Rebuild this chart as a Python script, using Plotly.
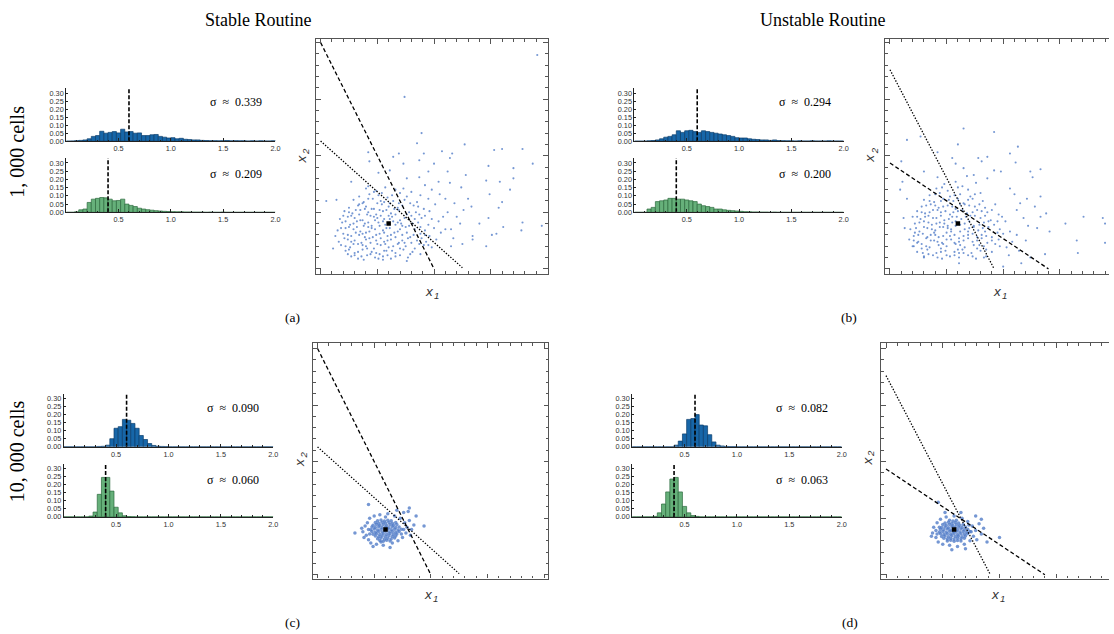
import plotly.graph_objects as go

W, H = 1114, 634

# ---------------------------------------------------------------- histograms
# fraction of cells per bin; 50 bins of width 0.04 covering [0, 2]
BIN_WIDTH = 0.04

stable_1k_x1 = [0, .001, .003, .005, .008, .015, .03, .035, .062, .05,
                .055, .06, .052, .075, .058, .06, .05, .052, .035, .035,
                .04, .042, .03, .025, .02, .022, .015, .018, .012, .01,
                .008, .008, .005, .004, .003, .003, .002, .003, .004, .002,
                .003, .002, .002, .001, .002, .001, .002, .001, .001, .002]
stable_1k_x2 = [0, 0, .003, .015, .02, .06, .08, .085, .09, .088,
                .08, .07, .072, .08, .05, .042, .035, .025, .02, .016,
                .013, .01, .008, .006, .005, .004, .003, .003, .002, .002,
                .001, .001, .001, 0, .001, 0, 0, .001, 0, 0,
                0, 0, 0, 0, 0, 0, 0, 0, 0, 0]
unstable_1k_x1 = [0, 0, 0, .002, .004, .008, .015, .025, .03, .04,
                  .065, .055, .065, .068, .06, .055, .065, .06, .055, .05,
                  .045, .04, .035, .03, .022, .02, .02, .015, .012, .01,
                  .008, .008, .005, .008, .004, .003, .002, .002, .001, .002,
                  .001, .001, .002, .001, .001, .001, .002, .001, .001, .001]
unstable_1k_x2 = [0, 0, 0, .02, .03, .065, .07, .075, .085, .085,
                  .08, .08, .075, .07, .065, .05, .04, .035, .03, .02,
                  .02, .015, .012, .01, .008, .006, .004, .003, .002, .002,
                  .001, .001, 0, .001, 0, 0, 0, 0, 0, 0,
                  0, 0, 0, 0, 0, 0, 0, 0, 0, 0]
stable_10k_x1 = [0, 0, 0, 0, 0, 0, 0, 0, .002, .003,
                 .01, .05, .115, .125, .17, .165, .145, .115, .07, .045,
                 .02, .008, .003, .002, .001, 0, 0, 0, 0, 0,
                 0, 0, 0, 0, 0, 0, 0, 0, 0, 0,
                 0, 0, 0, 0, 0, 0, 0, 0, 0, 0]
stable_10k_x2 = [0, 0, 0, 0, 0, 0, .005, .03, .14, .245,
                 .245, .16, .06, .025, .007, .002, .001, 0, 0, 0,
                 0, 0, 0, 0, 0, 0, 0, 0, 0, 0,
                 0, 0, 0, 0, 0, 0, 0, 0, 0, 0,
                 0, 0, 0, 0, 0, 0, 0, 0, 0, 0]
unstable_10k_x1 = [0, 0, 0, 0, 0, 0, 0, 0, 0, 0,
                   .01, .035, .08, .17, .175, .2, .135, .13, .075, .03,
                   .01, .005, .002, .001, .001, 0, 0, 0, 0, 0,
                   0, 0, 0, 0, 0, 0, 0, 0, 0, 0,
                   0, 0, 0, 0, 0, 0, 0, 0, 0, 0]
unstable_10k_x2 = [0, 0, 0, 0, 0, .003, .025, .08, .155, .235,
                   .245, .155, .065, .025, .008, .003, 0, 0, 0, 0,
                   0, 0, 0, 0, 0, 0, 0, 0, 0, 0,
                   0, 0, 0, 0, 0, 0, 0, 0, 0, 0,
                   0, 0, 0, 0, 0, 0, 0, 0, 0, 0]

sigma_labels = {
    "a": ("0.339", "0.209"),
    "b": ("0.294", "0.200"),
    "c": ("0.090", "0.060"),
    "d": ("0.082", "0.063"),
}

MEAN_X1 = 0.6
MEAN_X2 = 0.4

# ---------------------------------------------------------------- phase-plane lines
stable_dashed_x, stable_dashed_y = [0.0, 1.0], [2.0, 0.0]
stable_dotted_x, stable_dotted_y = [0.0, 1.25], [1.13, 0.01]
unstable_dotted_x, unstable_dotted_y = [0.0, 0.92], [1.76, 0.0]
unstable_dashed_x, unstable_dashed_y = [0.0, 1.40], [0.935, 0.0]

# ---------------------------------------------------------------- cell samples (x1, x2)
stable_1k_points = [
    (0.89, 1.20), (0.85, 1.11), (0.42, 1.03), (0.69, 1.02), (0.91, 1.02), (1.07, 1.04), (1.27, 1.10),
    (1.16, 1.02), (1.14, 0.98), (1.53, 1.05), (1.60, 1.06), (1.78, 1.06), (1.87, 0.93), (0.43, 0.95),
    (0.64, 0.99), (0.73, 0.93), (0.87, 0.96), (1.00, 0.93), (0.95, 0.86), (1.12, 0.86), (1.28, 0.83),
    (1.48, 0.91), (1.70, 0.89), (0.61, 0.87), (0.51, 0.85), (0.76, 0.80), (0.87, 0.81), (1.04, 0.77),
    (1.14, 0.76), (1.46, 0.78), (1.58, 0.77), (1.70, 0.80), (1.24, 0.72), (1.67, 0.70), (0.42, 0.73),
    (0.27, 0.77), (1.49, 0.66), (1.33, 0.55), (1.57, 0.54), (1.78, 0.41), (1.95, 0.38), (1.61, 0.37),
    (1.77, 0.34), (1.51, 0.30), (1.55, 0.31), (1.34, 0.29), (1.17, 0.27), (1.25, 0.22), (1.46, 0.20),
    (1.40, 0.40), (1.48, 0.45), (1.23, 0.40), (0.05, 0.60), (0.14, 0.61), (0.11, 0.18), (0.13, 0.29),
    (0.24, 0.13), (0.38, 0.08), (0.55, 0.08), (0.76, 0.07), (1.15, 0.20), (1.34, 0.26), (1.91, 1.89),
    (0.74, 1.52), (1.60, 0.59), (1.12, 0.50), (1.18, 0.58), (1.10, 0.62), (1.20, 0.46), (1.15, 0.35),
    (1.26, 0.52), (1.05, 0.66), (0.98, 0.70), (0.92, 0.74), (1.30, 0.62),
    (0.27, 0.11), (0.33, 0.09), (0.41, 0.12), (0.48, 0.10), (0.55, 0.11), (0.62, 0.09), (0.70, 0.12),
    (0.77, 0.10), (0.22, 0.16), (0.30, 0.14), (0.37, 0.17), (0.45, 0.15), (0.52, 0.13), (0.58, 0.16),
    (0.66, 0.14), (0.73, 0.17), (0.81, 0.15), (0.88, 0.13), (0.18, 0.21), (0.26, 0.19), (0.33, 0.22),
    (0.40, 0.20), (0.47, 0.18), (0.53, 0.21), (0.60, 0.19), (0.68, 0.22), (0.75, 0.20), (0.83, 0.18),
    (0.91, 0.21), (0.98, 0.19), (0.16, 0.24), (0.24, 0.26), (0.30, 0.25), (0.36, 0.23), (0.43, 0.27),
    (0.49, 0.25), (0.56, 0.24), (0.62, 0.26), (0.69, 0.23), (0.77, 0.27), (0.85, 0.25), (0.93, 0.24),
    (1.02, 0.26), (0.20, 0.31), (0.27, 0.29), (0.34, 0.30), (0.40, 0.32), (0.46, 0.28), (0.52, 0.31),
    (0.59, 0.29), (0.65, 0.32), (0.72, 0.30), (0.79, 0.28), (0.88, 0.31), (0.96, 0.29), (1.06, 0.32),
    (0.15, 0.34), (0.22, 0.36), (0.29, 0.35), (0.35, 0.33), (0.42, 0.37), (0.48, 0.35), (0.55, 0.34),
    (0.61, 0.36), (0.68, 0.33), (0.75, 0.37), (0.83, 0.35), (0.92, 0.34), (1.00, 0.36), (1.10, 0.35),
    (0.19, 0.41), (0.26, 0.39), (0.32, 0.42), (0.39, 0.40), (0.45, 0.38), (0.51, 0.41), (0.57, 0.39),
    (0.64, 0.42), (0.71, 0.40), (0.78, 0.38), (0.86, 0.41), (0.95, 0.39), (1.04, 0.42), (0.17, 0.44),
    (0.24, 0.46), (0.30, 0.45), (0.37, 0.43), (0.44, 0.47), (0.50, 0.45), (0.56, 0.44), (0.63, 0.46),
    (0.70, 0.43), (0.80, 0.47), (0.89, 0.45), (0.98, 0.44), (1.08, 0.46), (0.21, 0.51), (0.28, 0.49),
    (0.35, 0.52), (0.42, 0.50), (0.49, 0.48), (0.55, 0.51), (0.62, 0.49), (0.69, 0.52), (0.78, 0.50),
    (0.87, 0.48), (0.96, 0.51), (0.25, 0.54), (0.33, 0.56), (0.40, 0.55), (0.47, 0.53), (0.54, 0.57),
    (0.60, 0.55), (0.68, 0.54), (0.82, 0.56), (0.91, 0.53), (1.01, 0.57), (0.29, 0.61), (0.38, 0.59),
    (0.46, 0.62), (0.53, 0.60), (0.61, 0.58), (0.74, 0.61), (0.85, 0.59), (0.95, 0.62), (0.34, 0.64),
    (0.43, 0.66), (0.51, 0.65), (0.59, 0.63), (0.70, 0.67), (0.88, 0.65), (0.40, 0.71), (0.49, 0.69),
    (0.57, 0.72), (0.66, 0.70), (0.80, 0.68),
    (0.30, 0.12), (0.44, 0.13), (0.59, 0.12), (0.25, 0.17), (0.41, 0.18), (0.56, 0.16), (0.70, 0.18),
    (0.29, 0.22), (0.44, 0.23), (0.57, 0.22), (0.72, 0.25), (0.87, 0.22), (0.21, 0.27), (0.39, 0.28),
    (0.53, 0.27), (0.66, 0.28), (0.82, 0.30), (0.31, 0.32), (0.43, 0.33), (0.56, 0.32), (0.70, 0.35),
    (0.25, 0.37), (0.38, 0.38), (0.52, 0.38), (0.66, 0.39), (0.81, 0.40), (0.22, 0.42), (0.35, 0.43),
    (0.48, 0.43), (0.61, 0.44), (0.74, 0.45), (0.27, 0.47), (0.41, 0.48), (0.53, 0.47), (0.66, 0.48),
    (0.84, 0.50), (0.31, 0.52), (0.45, 0.53), (0.58, 0.52), (0.72, 0.56), (0.37, 0.58), (0.50, 0.58),
    (0.64, 0.60), (0.79, 0.58),
    (0.36, 0.11), (0.51, 0.09), (0.66, 0.11), (0.33, 0.15), (0.49, 0.14), (0.63, 0.16), (0.79, 0.13),
    (0.22, 0.20), (0.37, 0.21), (0.50, 0.22), (0.64, 0.20), (0.80, 0.23), (0.95, 0.21), (0.27, 0.24),
    (0.40, 0.26), (0.59, 0.25), (0.74, 0.23), (0.89, 0.27), (0.24, 0.30), (0.37, 0.31), (0.49, 0.30),
    (0.62, 0.30), (0.76, 0.32), (0.92, 0.30), (0.18, 0.36), (0.32, 0.37), (0.45, 0.36), (0.58, 0.36),
    (0.72, 0.38), (0.88, 0.37), (0.29, 0.40), (0.42, 0.41), (0.55, 0.42), (0.68, 0.41), (0.83, 0.44),
    (0.20, 0.47), (0.34, 0.48), (0.47, 0.46), (0.60, 0.47), (0.76, 0.48), (0.92, 0.47), (0.25, 0.50),
    (0.39, 0.53), (0.52, 0.52), (0.65, 0.53), (0.86, 0.55), (0.34, 0.57), (0.56, 0.59), (0.69, 0.58),
    (0.42, 0.62), (0.63, 0.65), (0.76, 0.64), (0.47, 0.68), (0.54, 0.67), (0.73, 0.71),
]

unstable_1k_points = [
    (0.65, 1.24), (0.92, 1.21), (0.15, 1.14), (0.27, 1.17), (0.60, 1.10), (1.13, 1.08), (1.06, 1.02),
    (0.42, 1.03), (0.78, 0.98), (0.86, 0.99), (1.11, 0.94), (0.10, 0.95), (0.55, 0.98), (0.58, 0.93),
    (0.65, 0.89), (0.81, 0.95), (0.92, 0.87), (0.98, 0.86), (1.24, 0.86), (1.33, 0.88), (1.26, 0.81),
    (0.68, 0.82), (0.74, 0.83), (0.30, 0.86), (0.42, 0.81), (0.86, 0.80), (1.06, 0.71), (1.21, 0.62),
    (1.33, 0.64), (0.11, 0.77), (0.09, 0.70), (0.15, 0.62), (0.12, 0.45), (0.13, 0.36), (1.71, 0.46),
    (1.88, 0.45), (1.55, 0.40), (1.38, 0.49), (1.33, 0.46), (1.65, 0.25), (1.66, 0.14), (1.90, 0.23),
    (1.30, 0.36), (1.41, 0.33), (1.37, 0.13), (1.24, 0.10), (1.16, 0.05), (1.00, 0.02), (0.21, 0.20),
    (0.30, 0.11), (0.61, 0.05), (0.83, 0.10), (1.90, 0.40), (1.12, 0.52), (1.18, 0.45), (1.15, 0.58),
    (1.22, 0.38), (1.10, 0.66), (1.28, 0.55), (1.20, 0.25), (1.14, 0.16), (1.05, 0.12),
    (0.30, 0.10), (0.38, 0.12), (0.46, 0.09), (0.53, 0.11), (0.61, 0.10), (0.69, 0.12), (0.76, 0.09),
    (0.85, 0.11), (0.24, 0.15), (0.33, 0.17), (0.41, 0.14), (0.49, 0.16), (0.57, 0.15), (0.64, 0.17),
    (0.72, 0.14), (0.80, 0.16), (0.90, 0.15), (0.20, 0.20), (0.28, 0.22), (0.35, 0.19), (0.43, 0.21),
    (0.50, 0.20), (0.58, 0.22), (0.66, 0.19), (0.74, 0.21), (0.83, 0.20), (0.93, 0.22), (1.03, 0.19),
    (0.17, 0.26), (0.25, 0.24), (0.32, 0.27), (0.39, 0.25), (0.46, 0.23), (0.54, 0.26), (0.61, 0.24),
    (0.69, 0.27), (0.77, 0.25), (0.86, 0.23), (0.96, 0.26), (1.08, 0.24), (0.21, 0.29), (0.29, 0.31),
    (0.36, 0.30), (0.43, 0.28), (0.50, 0.32), (0.57, 0.30), (0.65, 0.29), (0.73, 0.31), (0.81, 0.30),
    (0.90, 0.28), (1.00, 0.31), (1.12, 0.30), (0.18, 0.35), (0.26, 0.33), (0.33, 0.36), (0.40, 0.34),
    (0.47, 0.37), (0.54, 0.35), (0.62, 0.33), (0.70, 0.36), (0.78, 0.34), (0.87, 0.37), (0.97, 0.35),
    (1.06, 0.33), (0.22, 0.40), (0.30, 0.42), (0.37, 0.39), (0.44, 0.41), (0.51, 0.38), (0.58, 0.42),
    (0.66, 0.40), (0.74, 0.38), (0.83, 0.41), (0.92, 0.39), (1.02, 0.42), (0.20, 0.46), (0.27, 0.44),
    (0.34, 0.47), (0.41, 0.45), (0.48, 0.43), (0.55, 0.46), (0.63, 0.44), (0.71, 0.47), (0.80, 0.45),
    (0.89, 0.43), (0.99, 0.46), (0.24, 0.51), (0.31, 0.49), (0.38, 0.52), (0.45, 0.50), (0.53, 0.48),
    (0.60, 0.51), (0.68, 0.49), (0.77, 0.52), (0.86, 0.50), (0.96, 0.48), (0.28, 0.55), (0.36, 0.57),
    (0.43, 0.54), (0.51, 0.56), (0.58, 0.53), (0.66, 0.57), (0.75, 0.55), (0.84, 0.54), (0.93, 0.57),
    (0.30, 0.61), (0.39, 0.59), (0.47, 0.62), (0.56, 0.60), (0.65, 0.58), (0.73, 0.62), (0.82, 0.60),
    (0.35, 0.65), (0.44, 0.67), (0.53, 0.64), (0.62, 0.66), (0.71, 0.64), (0.80, 0.67), (0.41, 0.71),
    (0.51, 0.69), (0.60, 0.72), (0.69, 0.70), (0.48, 0.75), (0.58, 0.77), (0.76, 0.76),
    (0.34, 0.13), (0.50, 0.12), (0.65, 0.14), (0.28, 0.18), (0.45, 0.18), (0.60, 0.17), (0.77, 0.18),
    (0.24, 0.23), (0.42, 0.24), (0.57, 0.23), (0.73, 0.24), (0.90, 0.25), (0.33, 0.28), (0.47, 0.29),
    (0.61, 0.27), (0.77, 0.28), (0.22, 0.32), (0.39, 0.32), (0.54, 0.33), (0.69, 0.33), (0.84, 0.33),
    (0.30, 0.37), (0.44, 0.37), (0.58, 0.38), (0.74, 0.37), (0.26, 0.41), (0.41, 0.40), (0.55, 0.41),
    (0.70, 0.42), (0.87, 0.42), (0.31, 0.46), (0.45, 0.47), (0.59, 0.46), (0.75, 0.47), (0.35, 0.50),
    (0.49, 0.51), (0.64, 0.52), (0.81, 0.51), (0.40, 0.56), (0.55, 0.55), (0.70, 0.56), (0.45, 0.60),
    (0.60, 0.62),
    (0.42, 0.10), (0.57, 0.12), (0.73, 0.11), (0.29, 0.14), (0.45, 0.15), (0.61, 0.14), (0.85, 0.17),
    (0.32, 0.20), (0.47, 0.22), (0.62, 0.21), (0.79, 0.21), (0.97, 0.20), (0.21, 0.25), (0.36, 0.25),
    (0.50, 0.26), (0.65, 0.25), (0.81, 0.27), (0.25, 0.30), (0.40, 0.30), (0.53, 0.29), (0.69, 0.30),
    (0.85, 0.29), (0.95, 0.32), (0.23, 0.36), (0.37, 0.35), (0.51, 0.36), (0.66, 0.35), (0.82, 0.36),
    (0.34, 0.41), (0.48, 0.40), (0.62, 0.39), (0.79, 0.39), (0.95, 0.42), (0.24, 0.46), (0.38, 0.45),
    (0.52, 0.44), (0.67, 0.46), (0.84, 0.47), (0.28, 0.50), (0.42, 0.52), (0.56, 0.50), (0.73, 0.50),
    (0.90, 0.52), (0.32, 0.56), (0.47, 0.55), (0.62, 0.57), (0.79, 0.57), (0.35, 0.60), (0.52, 0.61),
    (0.69, 0.61), (0.40, 0.66), (0.57, 0.65), (0.75, 0.66), (0.46, 0.72), (0.64, 0.73),
]

stable_10k_points = [
    (0.55, 0.302), (0.58, 0.296), (0.61, 0.305), (0.64, 0.298),
    (0.53, 0.318), (0.56, 0.324), (0.59, 0.315), (0.62, 0.322), (0.65, 0.317), (0.68, 0.325),
    (0.51, 0.343), (0.54, 0.336), (0.57, 0.342), (0.60, 0.337), (0.63, 0.345), (0.66, 0.338), (0.69, 0.342),
    (0.49, 0.357), (0.52, 0.363), (0.55, 0.356), (0.58, 0.362), (0.61, 0.358), (0.64, 0.365), (0.67, 0.357),
    (0.70, 0.361), (0.48, 0.382), (0.51, 0.376), (0.54, 0.383), (0.57, 0.377), (0.60, 0.384), (0.63, 0.378),
    (0.66, 0.382), (0.69, 0.376), (0.72, 0.383), (0.47, 0.397), (0.50, 0.404), (0.53, 0.396), (0.56, 0.403),
    (0.59, 0.398), (0.62, 0.405), (0.65, 0.397), (0.68, 0.402), (0.71, 0.396), (0.74, 0.403), (0.48, 0.423),
    (0.51, 0.417), (0.54, 0.424), (0.57, 0.418), (0.60, 0.422), (0.63, 0.416), (0.66, 0.424), (0.69, 0.418),
    (0.72, 0.423), (0.49, 0.437), (0.52, 0.444), (0.55, 0.438), (0.58, 0.443), (0.61, 0.436), (0.64, 0.442),
    (0.67, 0.437), (0.70, 0.444), (0.51, 0.462), (0.54, 0.456), (0.57, 0.463), (0.60, 0.457), (0.63, 0.461),
    (0.66, 0.455), (0.69, 0.462), (0.53, 0.477), (0.56, 0.483), (0.59, 0.476), (0.62, 0.482), (0.65, 0.478),
    (0.40, 0.38), (0.42, 0.43), (0.43, 0.35), (0.44, 0.46), (0.45, 0.31), (0.46, 0.50), (0.47, 0.28),
    (0.50, 0.52), (0.52, 0.27), (0.55, 0.53), (0.58, 0.26), (0.62, 0.54), (0.66, 0.28), (0.68, 0.52),
    (0.71, 0.30), (0.73, 0.50), (0.75, 0.33), (0.77, 0.46), (0.78, 0.37), (0.79, 0.42), (0.81, 0.48),
    (0.82, 0.35), (0.76, 0.55), (0.70, 0.57), (0.39, 0.41), (0.41, 0.33), (0.83, 0.40), (0.85, 0.44),
    (0.64, 0.24), (0.49, 0.25), (0.45, 0.40), (0.76, 0.40), (0.74, 0.36), (0.46, 0.36), (0.60, 0.51),
    (0.56, 0.29), (0.33, 0.37), (0.45, 0.62), (0.81, 0.59), (0.94, 0.43), (0.87, 0.52), (0.80, 0.56),
]

unstable_10k_points = [
    (0.54, 0.298), (0.57, 0.304), (0.60, 0.297), (0.63, 0.303), (0.66, 0.299),
    (0.51, 0.322), (0.54, 0.316), (0.57, 0.323), (0.60, 0.317), (0.63, 0.324), (0.66, 0.318), (0.69, 0.322),
    (0.49, 0.337), (0.52, 0.343), (0.55, 0.336), (0.58, 0.344), (0.61, 0.338), (0.64, 0.343), (0.67, 0.336),
    (0.70, 0.342), (0.48, 0.362), (0.51, 0.356), (0.54, 0.363), (0.57, 0.357), (0.60, 0.364), (0.63, 0.356),
    (0.66, 0.362), (0.69, 0.357), (0.72, 0.363), (0.47, 0.377), (0.50, 0.383), (0.53, 0.376), (0.56, 0.384),
    (0.59, 0.378), (0.62, 0.383), (0.65, 0.377), (0.68, 0.382), (0.71, 0.376), (0.74, 0.383), (0.48, 0.403),
    (0.51, 0.397), (0.54, 0.404), (0.57, 0.396), (0.60, 0.402), (0.63, 0.398), (0.66, 0.404), (0.69, 0.397),
    (0.72, 0.402), (0.49, 0.417), (0.52, 0.423), (0.55, 0.416), (0.58, 0.424), (0.61, 0.418), (0.64, 0.422),
    (0.67, 0.417), (0.70, 0.423), (0.50, 0.443), (0.53, 0.437), (0.56, 0.444), (0.59, 0.436), (0.62, 0.442),
    (0.65, 0.438), (0.68, 0.443), (0.52, 0.457), (0.55, 0.463), (0.58, 0.456), (0.61, 0.462), (0.64, 0.458),
    (0.56, 0.482), (0.59, 0.476), (0.62, 0.481),
    (0.41, 0.37), (0.42, 0.42), (0.44, 0.33), (0.45, 0.46), (0.46, 0.29), (0.48, 0.49), (0.50, 0.27),
    (0.53, 0.51), (0.56, 0.26), (0.60, 0.52), (0.63, 0.25), (0.67, 0.50), (0.69, 0.27), (0.72, 0.47),
    (0.74, 0.30), (0.76, 0.43), (0.77, 0.34), (0.79, 0.39), (0.80, 0.31), (0.82, 0.45), (0.70, 0.23),
    (0.58, 0.22), (0.52, 0.55), (0.44, 0.39), (0.40, 0.34), (0.84, 0.36), (0.86, 0.41), (0.66, 0.55),
    (0.75, 0.38), (0.45, 0.36), (0.73, 0.44), (0.47, 0.42), (1.00, 0.33), (0.84, 0.49), (0.46, 0.64),
    (0.89, 0.29), (0.79, 0.52),
]

# ---------------------------------------------------------------- styling
BLUE_FILL, BLUE_EDGE = "#1766a8", "#0c3d6b"
GREEN_FILL, GREEN_EDGE = "#66b07a", "#2d6a3d"
DOT_COLOR = "rgba(78,122,198,0.78)"
FRAME = "#555555"
SANS = "Liberation Sans"
SERIF = "Liberation Serif"

layout = dict(
    width=W, height=H,
    margin=dict(l=0, r=0, t=0, b=0),
    paper_bgcolor="white", plot_bgcolor="rgba(0,0,0,0)",
    showlegend=False,
    annotations=[],
)
traces = []
_axis_count = [0]


def add_axes(x0, x1, ytop, ybot, xcfg, ycfg):
    """Create an x/y axis pair whose plotting area spans the given pixel box."""
    _axis_count[0] += 1
    k = _axis_count[0]
    s = "" if k == 1 else str(k)
    layout["xaxis" + s] = dict(domain=[x0 / W, min(x1 / W, 1.0)], anchor="y" + s, **xcfg)
    layout["yaxis" + s] = dict(domain=[1 - ybot / H, 1 - ytop / H], anchor="x" + s, **ycfg)
    return "x" + s, "y" + s


def text(x, y, s, size, family=SERIF, angle=0, color="black", style="normal"):
    layout["annotations"].append(dict(
        x=x / W, y=1 - y / H, xref="paper", yref="paper", text=s, showarrow=False,
        xanchor="center", yanchor="middle", textangle=angle,
        font=dict(family=family, size=size, color=color, style=style)))


def var_label(cx, cy, index, vertical=False):
    """Italic x with a lowered index digit, e.g. x1 / x2 axis names."""
    if vertical:
        text(cx - 1, cy + 3, "x", 13.5, family=SANS, angle=-90, color="#333", style="italic")
        text(cx + 3, cy - 4.5, index, 9.5, family=SANS, angle=-90, color="#333", style="italic")
    else:
        text(cx - 3, cy - 1, "x", 13.5, family=SANS, color="#333", style="italic")
        text(cx + 4.5, cy + 3, index, 9.5, family=SANS, color="#333", style="italic")


HIST_TOP = 0.33


def hist_panel(x0, x1, ytop, ybot, values, fill, edge, mean, sigma, sig_x, sig_y):
    xcfg = dict(range=[0, 2.0], showline=True, linecolor="#222", linewidth=1,
                ticks="inside", ticklen=3, tickcolor="#222", tickwidth=0.8,
                tickvals=[0.5, 1.0, 1.5, 2.0], ticktext=["0.5", "1.0", "1.5", "2.0"],
                tickfont=dict(family=SANS, size=7.3, color="#333"),
                showgrid=False, zeroline=False, fixedrange=True,
                minor=dict(ticks="inside", dtick=0.1, tick0=0, ticklen=1.6,
                           tickcolor="#222", tickwidth=0.7, showgrid=False))
    ycfg = dict(range=[0, HIST_TOP], showline=True, linecolor="#222", linewidth=1,
                ticks="inside", ticklen=2, tickcolor="#222", tickwidth=0.8,
                tickvals=[0, 0.05, 0.10, 0.15, 0.20, 0.25, 0.30],
                ticktext=["0.00", "0.05", "0.10", "0.15", "0.20", "0.25", "0.30"],
                tickfont=dict(family=SANS, size=7.3, color="#333"),
                showgrid=False, zeroline=False, fixedrange=True)
    xa, ya = add_axes(x0, x1, ytop, ybot, xcfg, ycfg)
    centers = [BIN_WIDTH * (i + 0.5) for i in range(len(values))]
    traces.append(go.Bar(x=centers, y=values, width=BIN_WIDTH, xaxis=xa, yaxis=ya,
                         marker=dict(color=fill, line=dict(color=edge, width=0.7))))
    traces.append(go.Scatter(x=[mean, mean], y=[0, HIST_TOP], mode="lines", xaxis=xa, yaxis=ya,
                             line=dict(color="black", width=1.6, dash="4px,2px")))
    text(sig_x, sig_y, "σ  ≈  " + sigma, 12)


def scatter_panel(box, xrange, yrange, points, dashed, dotted, right_frame=True, dot_size=2.1):
    x0, x1, ytop, ybot = box
    common = dict(showline=True, linecolor=FRAME, linewidth=1.4, ticks="inside",
                  ticklen=4.5, tickcolor=FRAME, tickwidth=1, dtick=0.5, tick0=0,
                  showticklabels=False, showgrid=False, zeroline=False, fixedrange=True,
                  minor=dict(ticks="inside", dtick=0.1, tick0=0, ticklen=2.5,
                             tickcolor=FRAME, tickwidth=0.8, showgrid=False))
    xcfg = dict(range=xrange, mirror="ticks", **common)
    ycfg = dict(range=yrange, mirror="ticks" if right_frame else False, **common)
    xa, ya = add_axes(x0, x1, ytop, ybot, xcfg, ycfg)
    traces.append(go.Scatter(x=[p[0] for p in points], y=[p[1] for p in points], mode="markers",
                             xaxis=xa, yaxis=ya, cliponaxis=True,
                             marker=dict(size=dot_size, color=DOT_COLOR, line=dict(width=0))))
    traces.append(go.Scatter(x=dashed[0], y=dashed[1], mode="lines", xaxis=xa, yaxis=ya,
                             line=dict(color="black", width=1.3, dash="4px,2.5px")))
    traces.append(go.Scatter(x=dotted[0], y=dotted[1], mode="lines", xaxis=xa, yaxis=ya,
                             line=dict(color="black", width=1.3, dash="1.4px,1.6px")))
    traces.append(go.Scatter(x=[MEAN_X1], y=[MEAN_X2], mode="markers", xaxis=xa, yaxis=ya,
                             marker=dict(symbol="square", size=4.5, color="black")))


# ---------------------------------------------------------------- histogram panels
rows = {  # (top of 0.33, baseline) for upper / lower histogram in each row
    "top": ((89.2, 142.3), (159.3, 214.0)),
    "bottom": ((396.8, 450.3), (467.4, 521.0)),
}
hist_specs = [
    ("a", 66.5, 276.7, "top", stable_1k_x1, stable_1k_x2, 237.5),
    ("b", 637.3, 847.5, "top", unstable_1k_x1, unstable_1k_x2, 808.5),
    ("c", 64.0, 274.5, "bottom", stable_10k_x1, stable_10k_x2, 234.0),
    ("d", 635.0, 845.5, "bottom", unstable_10k_x1, unstable_10k_x2, 806.0),
]
for key, hx0, hx1, row, v1, v2, sx in hist_specs:
    (ut, ub), (lt, lb) = rows[row]
    s1, s2 = sigma_labels[key]
    hist_panel(hx0, hx1, ut, ub, v1, BLUE_FILL, BLUE_EDGE, MEAN_X1, s1, sx, ut + 14)
    hist_panel(hx0, hx1, lt, lb, v2, GREEN_FILL, GREEN_EDGE, MEAN_X2, s2, sx, lt + 16)

# ---------------------------------------------------------------- phase-plane panels
scatter_panel((317.5, 550.5, 39.5, 276.0), [-0.04, 2.005], [-0.044, 2.03], stable_1k_points,
              (stable_dashed_x, stable_dashed_y), (stable_dotted_x, stable_dotted_y))
scatter_panel((889.0, 1114.0, 39.5, 276.0), [-0.044, 1.935], [-0.044, 2.03], unstable_1k_points,
              (unstable_dashed_x, unstable_dashed_y), (unstable_dotted_x, unstable_dotted_y),
              right_frame=False)
scatter_panel((314.3, 550.7, 346.0, 583.3), [-0.041, 2.036], [-0.035, 2.046], stable_10k_points,
              (stable_dashed_x, stable_dashed_y), (stable_dotted_x, stable_dotted_y), dot_size=3.5)
scatter_panel((885.0, 1114.0, 346.0, 583.3), [-0.044, 1.965], [-0.035, 2.046], unstable_10k_points,
              (unstable_dashed_x, unstable_dashed_y), (unstable_dotted_x, unstable_dotted_y),
              right_frame=False, dot_size=3.5)

# ---------------------------------------------------------------- labels
text(260, 20, "Stable Routine", 18)
text(826, 20, "Unstable Routine", 18)
text(17, 153, "1, 000 cells", 20, angle=-90)
text(17, 455, "10, 000 cells", 20, angle=-90)
for lx, ly, lab in [(294, 320, "(a)"), (853, 320, "(b)"), (294, 627, "(c)"), (854, 627, "(d)")]:
    text(lx, ly, lab, 13.5)
for lx, ly in [(434, 295), (1005, 295), (433, 600), (1003, 600)]:
    var_label(lx, ly, "1")
for lx, ly in [(304, 157), (875, 157), (302, 463), (872, 462)]:
    var_label(lx, ly, "2", vertical=True)

fig = go.Figure(data=traces, layout=layout)
fig.write_html("out.html")
